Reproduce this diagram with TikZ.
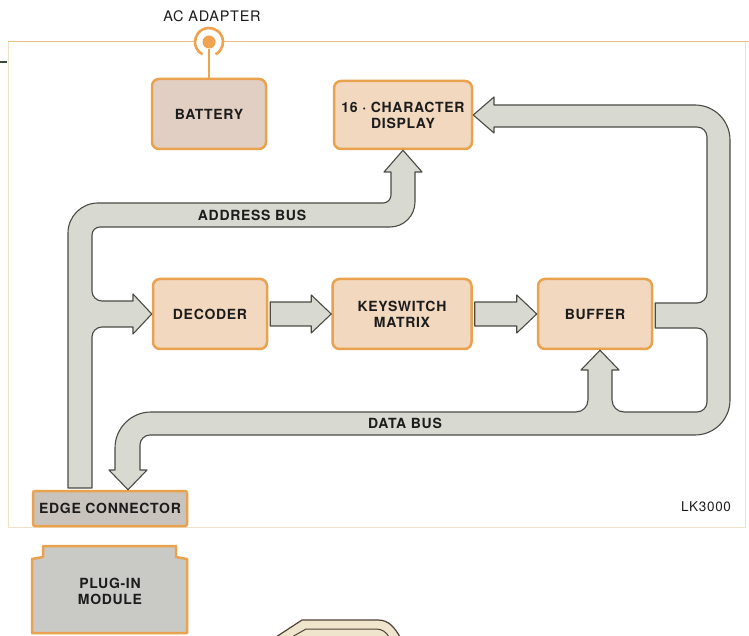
\documentclass[tikz,border=0pt]{standalone}
\usepackage{fontspec}
\setmainfont[LetterSpace=5]{TeX Gyre Heros}
\definecolor{busfill}{HTML}{D8D9D0}
\definecolor{busline}{HTML}{4B4B46}
\definecolor{boxline}{HTML}{E9A24E}
\definecolor{boxfill}{HTML}{F1D8BF}
\definecolor{batfill}{HTML}{E2CFC3}
\definecolor{conngray}{HTML}{C9C3BD}
\definecolor{modgray}{HTML}{C9C9C6}
\definecolor{framecol}{HTML}{E9BD84}
\definecolor{framepale}{HTML}{F0E2C8}
\definecolor{jackcol}{HTML}{EFA24F}
\definecolor{darktick}{HTML}{3D4A3A}
\definecolor{tabline}{HTML}{4E4236}
\definecolor{tabfill}{HTML}{EFE4CC}
\definecolor{ink}{HTML}{1C1C1C}
\begin{document}
\begin{tikzpicture}[x=1pt,y=1pt,font=\bfseries\fontsize{14}{16}\selectfont,
	blk/.style={draw=boxline,line width=2.5pt,rounded corners=7pt,fill=boxfill,minimum width=114pt,minimum height=70pt,align=center,text=ink},
	bus/.style={draw=busline,line width=1.1pt,fill=busfill,line join=round},
	lbl/.style={font=\mdseries\fontsize{14.5}{16}\selectfont,text=ink}]
	\useasboundingbox (0,0) rectangle (749,635);
	\fill[white] (0,0) rectangle (749,635);
	% frame of the unit
	\draw[framepale,line width=0.8pt] (8,593) -- (8,108) -- (745,108) -- (745,593);
	\draw[framecol,line width=1pt] (8,593) -- (749,593);
	\draw[darktick,line width=1.2pt] (0,573) -- (7,573);
	% ac adapter jack
	\node[lbl] (acl) at (212,619) {AC ADAPTER};
	\fill[white] (209,593) circle[radius=15];
	\node[circle,fill=jackcol,inner sep=0pt,minimum size=13pt] (jack) at (209,593) {};
	\draw[jackcol,line width=2.6pt] ([shift={(-62:14)}]jack.center) arc[start angle=-62,end angle=242,radius=14];
	% blocks
	\node[blk,fill=batfill] (bat) at (209,521) {BATTERY};
	\node[blk,minimum width=138pt,minimum height=68pt] (disp) at (403,520) {16 · CHARACTER\\DISPLAY};
	\node[blk] (dec) at (210,321) {DECODER};
	\node[blk,minimum width=139pt] (key) at (402,321) {KEYSWITCH\\MATRIX};
	\node[blk] (buf) at (595,321) {BUFFER};
	\node[blk,fill=conngray,rounded corners=2pt,minimum width=154pt,minimum height=35pt] (edge) at (110,126.5) {EDGE CONNECTOR};
	\draw[jackcol,line width=2pt] (jack) -- (bat.north);
	% plug-in module
	\draw[draw=boxline,line width=2.5pt,fill=modgray,line join=round] (32,2) -- (32,76) -- (43,78) -- (43,89) -- (176,89) -- (176,78) -- (187,76) -- (187,2) -- cycle;
	\node[text=ink,align=center] (mod) at (110,44) {PLUG-IN\\MODULE};
	\draw[draw=tabline,fill=tabfill,line width=1.2pt] (276,-2) -- (302,15) -- (378,15) to[out=0,in=120] (400,-2);
	\draw[tabline,line width=1pt] (292,-2) -- (306,6) -- (376,6) to[out=0,in=120] (389,-2);
	% address bus
	\draw[bus] (68,147) -- (68,402) arc[start angle=180,end angle=90,radius=30] -- (383,432) arc[start angle=270,end angle=360,radius=8]
		-- (391,463) -- (384,463) -- (disp.south) -- (422,463) -- (415,463) -- (415,433) arc[start angle=0,end angle=-90,radius=25]
		-- (100,408) arc[start angle=90,end angle=180,radius=8] -- (92,344) arc[start angle=180,end angle=270,radius=10]
		-- (133,334) -- (133,341) -- (dec.west) -- (133,301) -- (133,308) -- (102,308) arc[start angle=90,end angle=180,radius=10]
		-- (92,147) -- cycle;
	% data bus
	\draw[bus] (disp.east) -- (494,538) -- (494,530) -- (695,530) arc[start angle=90,end angle=0,radius=35]
		-- (730,235) arc[start angle=0,end angle=-90,radius=35] -- (150,200) arc[start angle=90,end angle=180,radius=10]
		-- (140,165) -- (147,165) -- ([xshift=18pt]edge.north) -- (109,165) -- (115,165) -- (115,187) arc[start angle=180,end angle=90,radius=36]
		-- (576,223) arc[start angle=270,end angle=360,radius=12] -- (588,265) -- (581,265) -- ([xshift=5pt]buf.south) -- (619,265) -- (612,265)
		-- (612,235) arc[start angle=180,end angle=270,radius=12] -- (697,223) arc[start angle=270,end angle=360,radius=10]
		-- (707,297) arc[start angle=0,end angle=90,radius=10] -- ([shift={(2,-14)}]buf.east) -- ([shift={(2,11)}]buf.east)
		-- (697,332) arc[start angle=270,end angle=360,radius=10] -- (707,498) arc[start angle=0,end angle=90,radius=10]
		-- (494,508) -- (494,502) -- cycle;
	% short arrows along the row
	\draw[bus] ([shift={(2,12)}]dec.east) -- ([shift={(-20,12)}]key.west) -- ([shift={(-20,19)}]key.west) -- (key.west)
		-- ([shift={(-20,-19)}]key.west) -- ([shift={(-20,-12)}]key.west) -- ([shift={(2,-12)}]dec.east) -- cycle;
	\draw[bus] ([shift={(2,12)}]key.east) -- ([shift={(-20,12)}]buf.west) -- ([shift={(-20,19)}]buf.west) -- (buf.west)
		-- ([shift={(-20,-19)}]buf.west) -- ([shift={(-20,-12)}]buf.west) -- ([shift={(2,-12)}]key.east) -- cycle;
	\node[text=ink] (abus) at (252,420) {ADDRESS BUS};
	\node[text=ink] (dbus) at (405,212) {DATA BUS};
	\node[lbl,font=\mdseries\fontsize{13.5}{15}\selectfont] (lk) at (706,128) {LK3000};
\end{tikzpicture}
\end{document}
